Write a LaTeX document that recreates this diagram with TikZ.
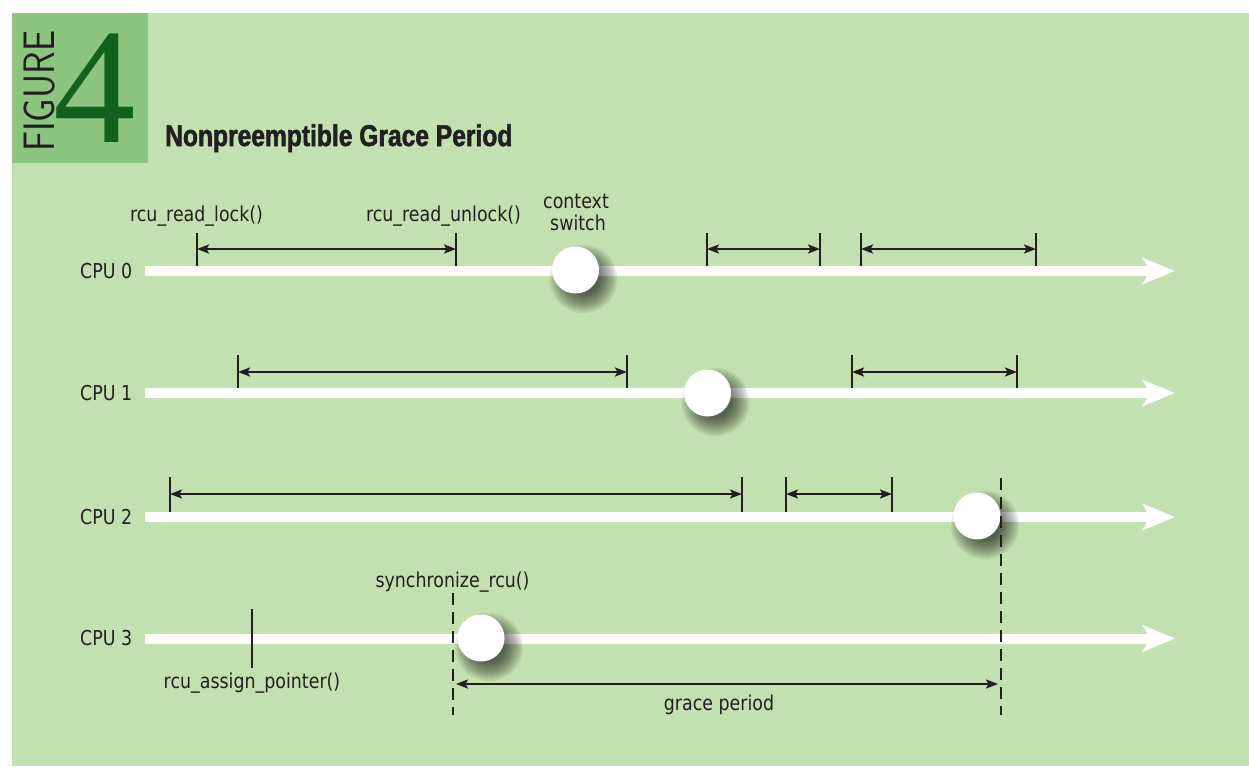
\documentclass[tikz,border=0pt]{standalone}
\usepackage{fontspec}
\setmainfont{DejaVu Sans}[FakeStretch=0.85]
\newfontfamily\titlefont{Liberation Sans}[FakeStretch=0.82, FakeBold=1.8]
\newfontfamily\figfont{lmsans17-regular.otf}[FakeStretch=0.85]
\newfontfamily\numfont{Liberation Serif}
\usetikzlibrary{arrows.meta}

\definecolor{bgl}{HTML}{C3E0B0}
\definecolor{bgd}{HTML}{8BC580}
\definecolor{numgreen}{HTML}{13611F}
\definecolor{ink}{HTML}{231F20}

\tikzset{
  lbl/.style={inner sep=0pt, text=ink, font=\fontsize{20.5}{23}\selectfont},
  timeline/.style={white, line width=10pt, -{Stealth[length=32pt,width=26pt,inset=7pt]}},
  rtick/.style={ink, line width=1.8pt},
  readspan/.style={ink, line width=2.2pt,
    {Stealth[length=12pt,width=9pt,inset=2.5pt]}-{Stealth[length=12pt,width=9pt,inset=2.5pt]}},
  cswitch/.style={circle, fill=white, minimum size=47pt, inner sep=0pt},
  softshade/.style={fill=black, fill opacity=0.075},
  gpline/.style={ink, line width=2.5pt, dash pattern=on 12pt off 7pt},
}

% read-side critical section: name, x start, x end, y of arrow, tick top, tick bottom
\newcommand\readsec[6]{%
  \coordinate (#1st) at (#2,#5); \coordinate (#1sb) at (#2,#6);
  \coordinate (#1et) at (#3,#5); \coordinate (#1eb) at (#3,#6);
  \coordinate (#1a) at (#2,#4);  \coordinate (#1b) at (#3,#4);
  \draw[rtick] (#1st) -- (#1sb);
  \draw[rtick] (#1et) -- (#1eb);
  \draw[readspan] (#1a) -- (#1b);
}

% context switch marker with a soft drop shadow: name, x, y
\newcommand\ctxswitch[3]{%
  \foreach \r in {34,32,...,16} {
    \fill[softshade] ({#2+8},{#3+9}) circle[radius=\r];
  }
  \node[cswitch] (#1) at (#2,#3) {};
}

\begin{document}
\begin{tikzpicture}[x=1pt, y=-1pt]
\useasboundingbox (0,0) rectangle (1249,766);
\fill[bgl] (12,13) rectangle (1249,766);
\fill[bgd] (12,13) rectangle (148,163);

% heading
\node[rotate=90, anchor=base west, inner sep=0pt, text=ink,
      font=\figfont\fontsize{44}{44}\selectfont] (figword) at (54,152) {FIGURE};
\node[anchor=base west, inner sep=0pt, text=numgreen,
      font=\numfont\fontsize{165}{165}\selectfont] (fignum) at (53,142) {4};
\node[anchor=base west, inner sep=0pt, text=ink,
      font=\titlefont\bfseries\fontsize{30}{31}\selectfont] (title) at (165,146) {Nonpreemptible Grace Period};

% CPU labels and time lines
\foreach \n/\y in {0/271, 1/393, 2/517, 3/638.5} {
  \node[lbl, anchor=west] (cpu\n) at (80,\y) {CPU \n};
  \coordinate (l\n s) at (145,\y);
  \coordinate (l\n e) at (1175,\y);
  \draw[timeline] (l\n s) -- (l\n e);
}

% read-side critical sections
\readsec{ra}{197}{456}{249}{233}{266}
\readsec{rb}{707}{820}{249}{233}{266}
\readsec{rc}{861}{1036}{249}{233}{266}
\readsec{rd}{238}{627}{372}{355}{388}
\readsec{re}{852}{1017}{372}{355}{388}
\readsec{rf}{170}{742}{494}{477}{512}
\readsec{rg}{786}{892}{494}{477}{512}

% rcu_assign_pointer on CPU 3
\coordinate (apt) at (252,609);
\coordinate (apb) at (252,668);
\draw[rtick] (apt) -- (apb);

% context switches
\ctxswitch{cs0}{575.5}{270}
\ctxswitch{cs1}{707.5}{393}
\ctxswitch{cs2}{977}{516}
\ctxswitch{cs3}{481}{638}

% grace period boundaries
\coordinate (gbt) at (453,593);
\coordinate (gbb) at (453,715);
\coordinate (get) at (1001,478);
\coordinate (geb) at (1001,715);
\draw[gpline] (gbt) -- (gbb);
\draw[gpline] (get) -- (geb);
\coordinate (gpa) at (453,684);
\coordinate (gpb) at (1001,684);
\draw[readspan, shorten <=3pt, shorten >=3pt] (gpa) -- (gpb);

% labels
\node[lbl, anchor=base] (tlock) at (196.5,221) {rcu\_read\_lock()};
\node[lbl, anchor=base] (tunlock) at (443.5,221) {rcu\_read\_unlock()};
\node[lbl, anchor=base] (tctx) at (576,208) {context};
\node[lbl, anchor=base] (tsw) at (578,230) {switch};
\node[lbl, anchor=base] (tsync) at (452.5,587) {synchronize\_rcu()};
\node[lbl, anchor=base] (tassign) at (252,688) {rcu\_assign\_pointer()};
\node[lbl, anchor=base] (tgrace) at (719,710) {grace period};
\end{tikzpicture}
\end{document}
